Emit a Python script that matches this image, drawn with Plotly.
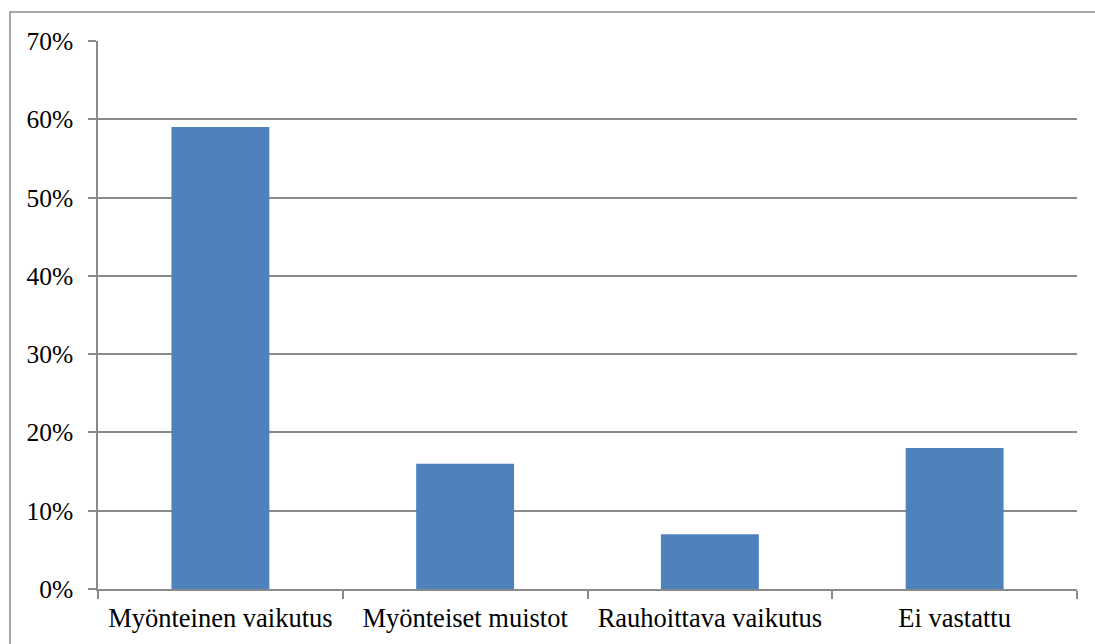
import plotly.graph_objects as go

categories = ["Myönteinen vaikutus", "Myönteiset muistot", "Rauhoittava vaikutus", "Ei vastattu"]
values = [0.59, 0.16, 0.07, 0.18]
y_ticks = [0, 0.1, 0.2, 0.3, 0.4, 0.5, 0.6, 0.7]

GRAY = "#8a8a8a"
FAMILY = "Liberation Serif, Times New Roman, serif"

fig = go.Figure(go.Bar(x=categories, y=values, marker=dict(color="#4F81BD", line=dict(width=0)), width=0.4))

fig.update_layout(
    width=1095, height=644,
    margin=dict(l=98, r=18, t=41, b=55, autoexpand=False),
    paper_bgcolor="white", plot_bgcolor="white",
    font=dict(family=FAMILY, size=25, color="black"), showlegend=False,
)
fig.update_xaxes(
    showline=True, linecolor=GRAY, linewidth=1.5,
    ticks="outside", tickson="boundaries", ticklen=8, tickcolor=GRAY, tickwidth=1.5,
    showgrid=False, tickfont=dict(family=FAMILY, size=26.5, color="black"),
    ticklabelstandoff=4, automargin=False,
)
fig.update_yaxes(
    range=[0, 0.7], tickvals=y_ticks, tickformat=".0%",
    showline=True, linecolor=GRAY, linewidth=1.5,
    ticks="outside", ticklen=8, tickcolor=GRAY, tickwidth=1.5,
    showgrid=True, gridcolor=GRAY, gridwidth=1.5, zeroline=False,
    tickfont=dict(family=FAMILY, size=25.5, color="black"), ticklabelstandoff=10,
    automargin=False,
)
fig.add_shape(type="rect", xref="paper", yref="paper",
              x0=-0.0899, x1=1.05, y0=-0.2, y1=1.0529,
              line=dict(color=GRAY, width=1.5), layer="below")

fig.write_html("out.html", config={"displayModeBar": False},
               post_script="document.body.style.margin='0';document.body.style.overflow='hidden';")
